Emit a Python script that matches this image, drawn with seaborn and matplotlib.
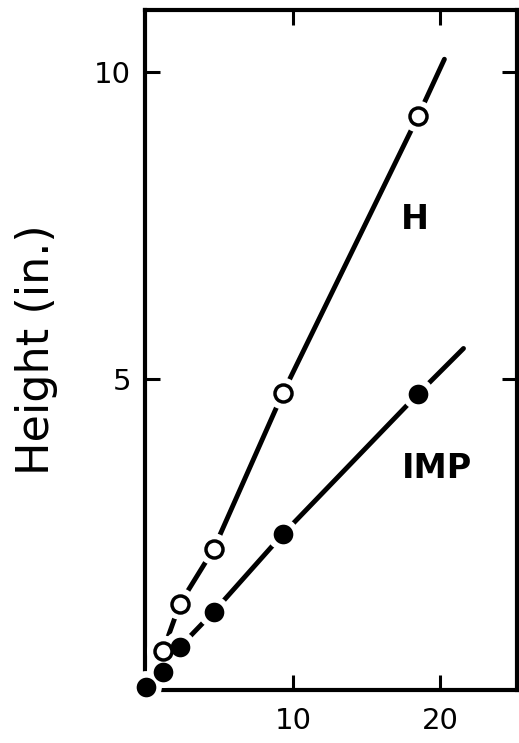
import matplotlib
matplotlib.use("Agg")
import matplotlib.pyplot as plt
import seaborn as sns
import pandas as pd

# --- data ---
time_x = [0.0, 1.15, 2.3, 4.6, 9.3, 18.5]
h_height = [0.0, 0.58, 1.35, 2.24, 4.77, 9.27]
imp_height = [0.0, 0.24, 0.65, 1.22, 2.48, 4.76]
# where each drawn line ends beyond the last point
h_line_end = (20.3, 10.2)
imp_line_end = (21.6, 5.5)
x_ticks = [10, 20]
y_ticks = [5, 10]

sns.set_theme(style="white", rc={"text.color": "black", "axes.labelcolor": "black",
                                 "xtick.color": "black", "ytick.color": "black"})
plt.rcParams['font.family'] = ['DejaVu Sans']

fig = plt.figure(figsize=(5.19, 7.43), dpi=100)
ax = fig.add_axes([145/519, 1 - 690/743, (517 - 145)/519, (690 - 10)/743])

h_df = pd.DataFrame({"x": time_x + [h_line_end[0]], "y": h_height + [h_line_end[1]]})
imp_df = pd.DataFrame({"x": time_x + [imp_line_end[0]], "y": imp_height + [imp_line_end[1]]})

sns.lineplot(data=h_df, x="x", y="y", ax=ax, color="black", lw=3.5, sort=False,
             estimator=None, solid_capstyle="round", zorder=2)
sns.lineplot(data=imp_df, x="x", y="y", ax=ax, color="black", lw=3.5, sort=False,
             estimator=None, solid_capstyle="round", zorder=2)

pts_h = pd.DataFrame({"x": time_x[1:], "y": h_height[1:]})
pts_imp = pd.DataFrame({"x": time_x, "y": imp_height})

# white halos to break the lines around the markers
sns.scatterplot(data=pts_h, x="x", y="y", ax=ax, s=520, color="white",
                edgecolor="none", zorder=3, clip_on=False)
sns.scatterplot(data=pts_imp, x="x", y="y", ax=ax, s=520, color="white",
                edgecolor="none", zorder=3, clip_on=False)
sns.scatterplot(data=pts_h, x="x", y="y", ax=ax, s=150, color="white",
                edgecolor="black", linewidth=2.5, zorder=4, clip_on=False)
sns.scatterplot(data=pts_imp, x="x", y="y", ax=ax, s=200, color="black",
                edgecolor="black", linewidth=0, zorder=4, clip_on=False)

ax.set_xlim(-0.07, 25.24)
ax.set_ylim(-0.05, 11.0)
ax.set_xticks(x_ticks)
ax.set_yticks(y_ticks)
ax.set_xticklabels([str(t) for t in x_ticks])
ax.set_yticklabels([str(t) for t in y_ticks])
ax.tick_params(direction="in", length=11, width=2.2, colors="black", labelcolor="black",
               labelsize=21, top=True, right=True, bottom=True, left=True)
ax.tick_params(axis="x", pad=12)
ax.tick_params(axis="y", pad=10)
for s in ax.spines.values():
    s.set_visible(True)
    s.set_color("black")
    s.set_linewidth(3)

ax.set_xlabel("")
ax.set_ylabel("Height (in.)", fontsize=32, labelpad=26, color="black")

ax.text(18.3, 7.6, "H", fontsize=24, fontweight="bold", ha="center", va="center", color="black")
ax.text(19.8, 3.55, "IMP", fontsize=24, fontweight="bold", ha="center", va="center", color="black")

fig.savefig("out.png", dpi=100)
